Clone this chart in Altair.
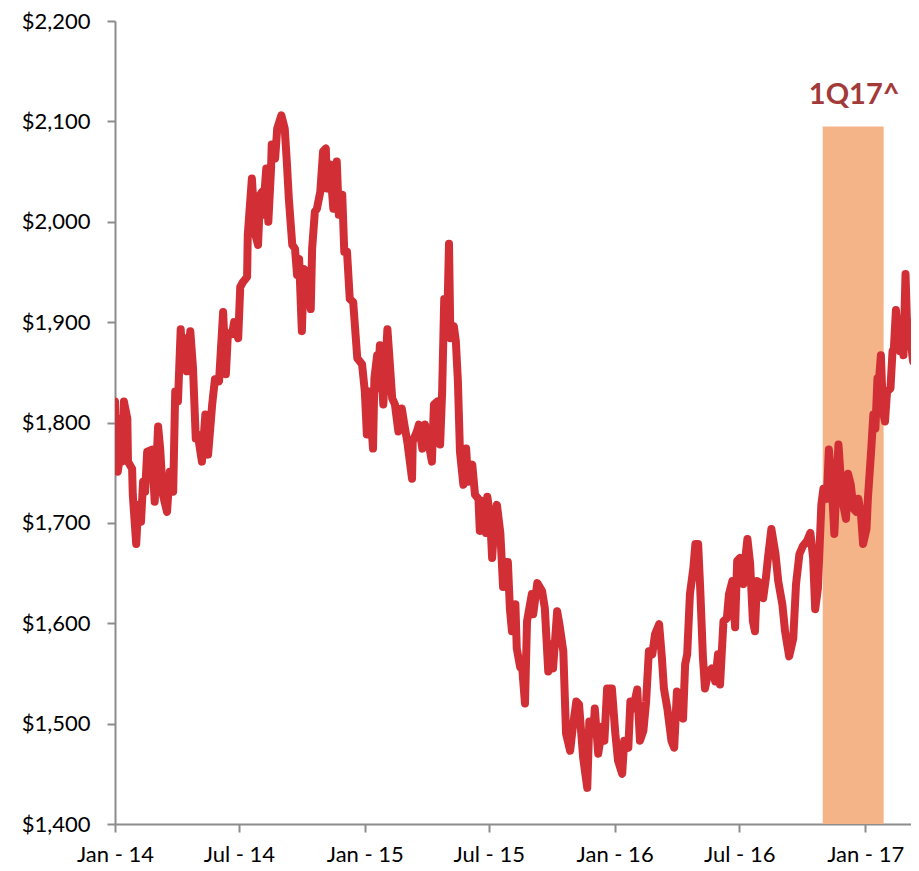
import altair as alt
import pandas as pd

# Days since 2014-01-01 and price values
days = [0, 1, 3, 4, 9, 10, 13, 18, 19, 25, 26, 31, 34, 38, 41, 44, 47, 54, 58, 63,
        66, 70, 76, 80, 85, 88, 92, 96, 99, 104, 105, 110, 114, 118, 121, 127, 132, 136, 142, 146,
        152, 158, 162, 165, 171, 174, 180, 183, 187, 193, 194, 200, 205, 209, 212, 215, 216, 221, 224, 228,
        229, 234, 237, 243, 248, 251, 254, 259, 263, 266, 269, 273, 276, 281, 286, 288, 292, 295, 300, 304,
        308, 310, 314, 319, 322, 324, 327, 332, 335, 339, 343, 348, 354, 361, 365, 368, 371, 377, 379, 383,
        384, 387, 392, 398, 400, 405, 409, 414, 419, 422, 427, 434, 435, 441, 444, 449, 453, 457, 463, 466,
        471, 475, 478, 481, 485, 488, 490, 495, 498, 501, 504, 509, 513, 516, 522, 526, 531, 533, 536, 542,
        544, 548, 551, 555, 558, 563, 567, 571, 574, 577, 580, 585, 587, 592, 595, 599, 602, 609, 611, 617,
        624, 628, 633, 636, 640, 646, 650, 655, 659, 665, 669, 674, 678, 684, 690, 693, 699, 701, 706, 712,
        715, 719, 726, 731, 735, 741, 744, 750, 753, 757, 763, 767, 772, 776, 780, 785, 789, 795, 799, 802,
        807, 813, 817, 821, 826, 830, 833, 836, 840, 845, 848, 852, 855, 859, 862, 867, 872, 877, 881, 884,
        889, 894, 897, 902, 906, 909, 913, 918, 921, 924, 928, 932, 935, 938, 946, 947, 951, 954, 959, 965,
        969, 975, 979, 985, 991, 995, 1000, 1005, 1011, 1016, 1020, 1023, 1027, 1032, 1035, 1040, 1043, 1048, 1051, 1054,
        1057, 1061, 1064, 1068, 1071, 1075, 1079, 1083, 1086, 1090, 1093, 1098, 1100, 1105, 1108, 1111, 1114, 1115, 1119, 1122,
        1125, 1128, 1133, 1136, 1138, 1141, 1144, 1147, 1150, 1152, 1155, 1157, 1162, 1166, 1169, 1172, 1175]

prices = [1821, 1774, 1804, 1751, 1774, 1761, 1821, 1804, 1761, 1754, 1728, 1679, 1718, 1701, 1741, 1731, 1771, 1773, 1721, 1796,
          1774, 1728, 1711, 1751, 1731, 1831, 1821, 1893, 1854, 1884, 1851, 1891, 1854, 1784, 1788, 1761, 1808, 1768, 1818, 1843,
          1841, 1910, 1848, 1889, 1888, 1900, 1884, 1935, 1940, 1945, 1987, 2043, 1987, 1977, 2027, 2030, 2007, 2053, 2000, 2053,
          2077, 2063, 2093, 2106, 2093, 2060, 2023, 1977, 1973, 1947, 1963, 1891, 1953, 1947, 1913, 1973, 2010, 2013, 2030, 2070,
          2073, 2033, 2057, 2013, 2053, 2060, 2007, 2027, 1970, 1970, 1923, 1920, 1864, 1858, 1831, 1788, 1831, 1774, 1844, 1867,
          1834, 1877, 1818, 1893, 1874, 1824, 1818, 1791, 1814, 1801, 1781, 1744, 1781, 1791, 1798, 1774, 1798, 1784, 1761, 1818,
          1821, 1778, 1831, 1923, 1888, 1978, 1884, 1896, 1881, 1841, 1771, 1738, 1774, 1741, 1758, 1728, 1724, 1692, 1722, 1690,
          1726, 1707, 1665, 1707, 1718, 1690, 1636, 1661, 1661, 1614, 1592, 1619, 1575, 1556, 1555, 1520, 1602, 1629, 1609, 1640,
          1632, 1615, 1552, 1579, 1555, 1612, 1596, 1572, 1490, 1473, 1497, 1522, 1519, 1466, 1436, 1502, 1490, 1515, 1470, 1497,
          1483, 1535, 1535, 1490, 1463, 1450, 1483, 1476, 1522, 1515, 1534, 1483, 1493, 1522, 1572, 1569, 1589, 1599, 1566, 1535,
          1515, 1483, 1476, 1532, 1529, 1505, 1559, 1569, 1629, 1655, 1679, 1679, 1635, 1566, 1535, 1552, 1555, 1542, 1569, 1539,
          1602, 1605, 1629, 1642, 1596, 1662, 1665, 1639, 1665, 1684, 1659, 1602, 1592, 1642, 1639, 1625, 1645, 1665, 1694, 1669,
          1642, 1619, 1592, 1567, 1585, 1639, 1669, 1677, 1682, 1690, 1665, 1614, 1635, 1718, 1734, 1724, 1773, 1728, 1689, 1738,
          1778, 1738, 1718, 1704, 1749, 1738, 1714, 1711, 1724, 1708, 1679, 1694, 1724, 1774, 1808, 1794, 1844, 1831, 1867, 1811,
          1801, 1831, 1834, 1871, 1874, 1912, 1888, 1871, 1900, 1867, 1948, 1903, 1884, 1861, 1903, 1927, 1940]

period_start = ["2016-10-31"]
period_end = ["2017-01-28"]
period_top = [2095]
period_label = ["1Q17^"]
period_mid = ["2016-12-16"]
label_value = [2117]

y_ticks = [1400, 1500, 1600, 1700, 1800, 1900, 2000, 2100, 2200]
x_ticks = ["2014-01-01", "2014-07-01", "2015-01-01", "2015-07-01", "2016-01-01", "2016-07-01", "2017-01-01"]
x_end = "2017-03-09"

base = pd.Timestamp("2014-01-01")
dates = (base + pd.to_timedelta(days, unit="D")).strftime("%Y-%m-%d")
line_df = pd.DataFrame({"date": list(dates), "price": prices})
rect_df = pd.DataFrame({"start": period_start, "end": period_end, "top": period_top, "bottom": [1400]})
text_df = pd.DataFrame({"mid": period_mid, "val": label_value, "label": period_label})


def dt(s):
    y, m, d = s.split("-")
    return alt.DateTime(year=int(y), month=int(m), date=int(d), utc=True)


x_scale = alt.Scale(type="utc", domain=[dt("2014-01-01"), dt(x_end)])
y_scale = alt.Scale(domain=[1400, 2200], nice=False, zero=False)

x_axis = alt.Axis(values=[dt(s) for s in x_ticks], format="%b - %y", title=None,
                  labelPadding=12, labelFlush=False)
y_axis = alt.Axis(values=y_ticks, format="$,.0f", title=None, labelPadding=17)

rect = alt.Chart(rect_df).mark_rect(color="#F4B487").encode(
    x=alt.X("start:T", scale=x_scale, axis=x_axis),
    x2="end:T",
    y=alt.Y("top:Q", scale=y_scale, axis=y_axis),
    y2="bottom:Q",
)

line = alt.Chart(line_df).mark_line(color="#D12F35", strokeWidth=8, strokeJoin="round",
                                    strokeCap="round", clip=True).encode(
    x=alt.X("date:T", scale=x_scale, axis=x_axis),
    y=alt.Y("price:Q", scale=y_scale, axis=y_axis),
)

text = alt.Chart(text_df).mark_text(font="Lato", fontSize=29, fontWeight="bold",
                                    color="#A33A3A", baseline="alphabetic", align="center").encode(
    x=alt.X("mid:T", scale=x_scale),
    y=alt.Y("val:Q", scale=y_scale),
    text="label:N",
)

chart = alt.layer(rect, line, text).properties(
    width=796, height=803,
    background="white",
    autosize=alt.AutoSizeParams(type="none"),
    padding={"left": 107, "top": 13, "right": 0, "bottom": 46},
).configure_view(stroke=None).configure_axis(
    grid=False,
    domainColor="#8C8C8C", domainWidth=2,
    tickColor="#8C8C8C", tickWidth=2, tickSize=8,
    labelFont="Lato", labelFontSize=22, labelColor="#000000",
)

chart.save("out.html", embed_options={"renderer": "svg", "actions": False})
